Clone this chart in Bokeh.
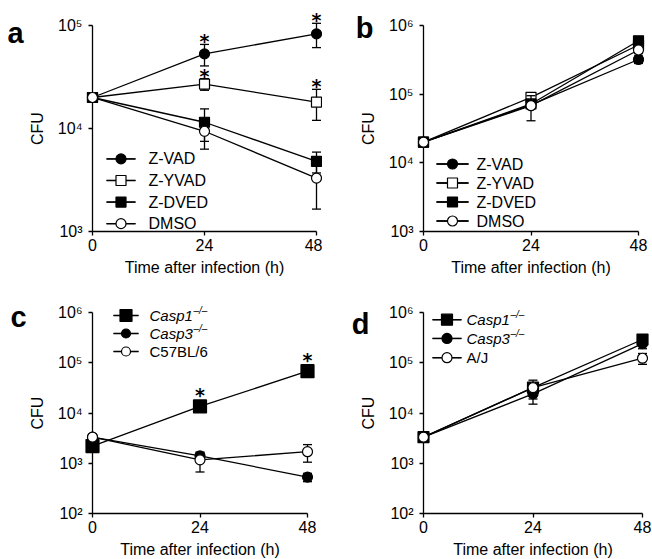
from bokeh.plotting import figure
from bokeh.models import Range1d, FixedTicker
from bokeh.layouts import column, row
from bokeh.embed import file_html
from bokeh.resources import INLINE
from bokeh.core.properties import value

# ---------------- data ----------------
time = [0, 24, 48]
x_ticks = [0, 24, 48]

# panel a
a_zvad = [2.0e4, 5.3e4, 8.3e4]
a_zvad_err = [0, 1.25e4, 2.2e4]
a_zyvad = [2.0e4, 2.7e4, 1.8e4]
a_zyvad_err = [0, 3.5e3, 6.0e3]
a_zdved = [2.0e4, 1.15e4, 4.8e3]
a_zdved_err = [0, 4.0e3, 1.1e3]
a_dmso = [2.0e4, 9.4e3, 3.3e3]
a_dmso_err = [0, 3.1e3, 1.65e3]
a_zvad_star = [False, True, True]
a_zyvad_star = [False, True, True]

# panel b
b_zvad = [2.0e4, 7.0e4, 3.2e5]
b_zvad_err = [0, 8.0e3, 4.0e4]
b_zyvad = [2.0e4, 9.0e4, 5.2e5]
b_zyvad_err = [0, 1.0e4, 5.0e4]
b_zdved = [2.0e4, 7.2e4, 6.0e5]
b_zdved_err = [0, 8.0e3, 6.0e4]
b_dmso = [2.0e4, 6.8e4, 4.4e5]
b_dmso_err = [0, 2.7e4, 5.0e4]

# panel c
c_casp1 = [2.2e3, 1.35e4, 6.8e4]
c_casp1_err = [0, 2.5e3, 1.0e4]
c_casp3 = [3.3e3, 1.4e3, 5.3e2]
c_casp3_err = [0, 2.0e2, 1.0e2]
c_c57 = [3.3e3, 1.17e3, 1.7e3]
c_c57_err = [0, 5.0e2, 6.5e2]
c_casp1_star = [False, True, True]

# panel d
d_casp1 = [3.3e3, 3.2e4, 2.9e5]
d_casp1_err = [0, 1.3e4, 7.0e4]
d_casp3 = [3.3e3, 2.4e4, 2.4e5]
d_casp3_err = [0, 9.0e3, 5.0e4]
d_aj = [3.3e3, 3.2e4, 1.23e5]
d_aj_err = [0, 5.0e3, 3.0e4]

FONT = value("Liberation Sans")
STARFONT = value("DejaVu Sans")
SUP = {2: "10\u00b2", 3: "10\u00b3", 4: "10\u2074", 5: "10\u2075", 6: "10\u2076"}
XTITLE = "Time after infection (h)"
KO = "\u2013/\u2013"


class Panel:
    def __init__(self, width, height, left, right, top, bottom, elo, ehi):
        # top: pixel row of the highest decade tick
        self.fw = width - left - right
        self.fh = height - bottom - top
        self.elo, self.ehi = elo, ehi
        p = figure(width=width, height=height, x_range=Range1d(0, 48),
                   y_range=Range1d(10.0 ** elo, 10.0 ** ehi), y_axis_type="log",
                   output_backend="svg", toolbar_location=None,
                   min_border_left=left, min_border_right=right,
                   min_border_top=top, min_border_bottom=bottom)
        p.grid.visible = False
        p.outline_line_color = None
        p.background_fill_color = "white"
        p.border_fill_color = "white"
        p.xaxis.ticker = FixedTicker(ticks=x_ticks)
        ticks = [10.0 ** k for k in range(elo, ehi + 1)]
        p.yaxis.ticker = FixedTicker(ticks=ticks, minor_ticks=[])
        p.yaxis.major_label_overrides = {10.0 ** k: SUP[k] for k in range(elo, ehi + 1)}
        for ax in (p.xaxis, p.yaxis):
            ax.axis_line_color = "black"
            ax.axis_line_width = 1.3
            ax.major_tick_line_color = "black"
            ax.major_tick_line_width = 1.3
            ax.major_tick_out = 4
            ax.major_tick_in = 0
            ax.minor_tick_line_color = None
            ax.major_label_text_font = "Liberation Sans"
            ax.major_label_text_font_size = "16px"
            ax.major_label_text_color = "black"
            ax.axis_label_text_font = "Liberation Sans"
            ax.axis_label_text_font_size = "16px"
            ax.axis_label_text_font_style = "normal"
            ax.axis_label_text_color = "black"
        p.xaxis.major_label_standoff = 3
        p.yaxis.major_label_standoff = 6
        p.yaxis.axis_label_standoff = 9
        p.yaxis.axis_label = "CFU"
        p.text([(x_ticks[0] + x_ticks[-1]) / 2], [10.0 ** elo], text=[XTITLE],
               y_offset=36, text_font=FONT, text_font_size="16px",
               text_align="center", text_baseline="middle", text_color="black",
               level="overlay")
        self.p = p

    # pixel position (from frame left / top tick) -> data coordinates
    def dx(self, px):
        return px * 48.0 / self.fw

    def dy(self, py):
        return 10.0 ** (self.ehi - py * (self.ehi - self.elo) / self.fh)

    def series(self, vals, errs, marker, size, fill, stars=None, star_gap=2):
        p = self.p
        p.line(time, vals, line_color="black", line_width=1.3, level="overlay")
        xs = [t for t, e in zip(time, errs) if e > 0]
        up = [v + e for v, e in zip(vals, errs) if e > 0]
        lo = [v - e for v, e in zip(vals, errs) if e > 0]
        p.segment(x0=xs, y0=lo, x1=xs, y1=up, line_color="black", line_width=1.3,
                  level="overlay")
        p.scatter(xs + xs, up + lo, marker="dash", size=9, line_color="black",
                  line_width=1.3, level="overlay")
        p.scatter(time, vals, marker=marker, size=size, fill_color=fill,
                  line_color="black", line_width=1.2, level="overlay")
        if stars is not None:
            sx = [t for t, s in zip(time, stars) if s]
            sy = [v + e for v, e, s in zip(vals, errs, stars) if s]
            p.text(sx, sy, text=["*"] * len(sx), text_align="center",
                   text_baseline="middle", y_offset=-star_gap, text_font_size="19px",
                   text_font=STARFONT, text_font_style="bold", text_color="black",
                   level="overlay")

    def key(self, label, marker, msize, fill, px0, py, glyph_w, standoff,
            size="16px", italic=False, ko=False):
        p = self.p
        yc = self.dy(py)
        x0, x1 = self.dx(px0), self.dx(px0 + glyph_w)
        xm = self.dx(px0 + glyph_w / 2)
        xt = self.dx(px0 + glyph_w + standoff)
        p.line([x0, x1], [yc, yc], line_color="black", line_width=1.3, level="overlay")
        p.scatter([xm], [yc], marker="dash", size=glyph_w, line_color="black",
                  line_width=1.3, level="overlay")
        p.scatter([xm], [yc], marker=marker, size=msize, fill_color=fill,
                  line_color="black", line_width=1.2, level="overlay")
        p.text([xt], [yc], text=[label], text_font=FONT, text_font_size=size,
               text_font_style="italic" if italic else "normal",
               text_align="left", text_baseline="middle", text_color="black",
               level="overlay")
        if ko:
            p.text([xt], [yc], text=[KO], x_offset=44, y_offset=-5,
                   text_font=FONT, text_font_size="10px", text_font_style="italic",
                   text_align="left", text_baseline="middle", text_color="black",
                   level="overlay")

    def letter(self, t, ox, oy):
        self.p.text([x_ticks[0]], [10.0 ** self.ehi], text=[t], x_offset=ox, y_offset=oy,
                    text_font=FONT, text_font_size="29px", text_font_style="bold",
                    text_align="center", text_baseline="middle",
                    text_color="black", level="overlay")


# ---------------- panel a ----------------
A = Panel(322, 280, 92, 6, 21, 49, 3, 5)
A.series(a_zvad, a_zvad_err, "circle", 10, "black", a_zvad_star, star_gap=3)
A.series(a_zyvad, a_zyvad_err, "square", 10, "white", a_zyvad_star, star_gap=3)
A.series(a_zdved, a_zdved_err, "square", 10, "black")
A.series(a_dmso, a_dmso_err, "circle", 10, "white")
for i, (lab, mk, fl) in enumerate([("Z-VAD", "circle", "black"), ("Z-YVAD", "square", "white"),
                                   ("Z-DVED", "square", "black"), ("DMSO", "circle", "white")]):
    A.key(lab, mk, 10, fl, 14, 136 + 22 * i, 29, 13)
A.letter("a", -77, 7)

# ---------------- panel b ----------------
B = Panel(330, 280, 101, 14, 25, 49, 3, 6)
B.series(b_zvad, b_zvad_err, "circle", 10, "black")
B.series(b_zyvad, b_zyvad_err, "square", 10, "white")
B.series(b_zdved, b_zdved_err, "square", 10, "black")
B.series(b_dmso, b_dmso_err, "circle", 10, "white")
for i, (lab, mk, fl) in enumerate([("Z-VAD", "circle", "black"), ("Z-YVAD", "square", "white"),
                                   ("Z-DVED", "square", "black"), ("DMSO", "circle", "white")]):
    B.key(lab, mk, 10, fl, 13, 138.5 + 19 * i, 32, 8)
B.letter("b", -59, 2)

# ---------------- panel c ----------------
C = Panel(322, 279, 92, 15, 32, 46, 2, 6)
C.series(c_casp1, c_casp1_err, "square", 13, "black", c_casp1_star, star_gap=8)
C.series(c_casp3, c_casp3_err, "circle", 10, "black")
C.series(c_c57, c_c57_err, "circle", 10, "white")
C.key("Casp1", "square", 12, "black", 21, 3, 25, 11, size="15px", italic=True, ko=True)
C.key("Casp3", "circle", 9, "black", 21, 21, 25, 11, size="15px", italic=True, ko=True)
C.key("C57BL/6", "circle", 9, "white", 21, 39, 25, 11, size="15px")
C.letter("c", -74, 4)

# ---------------- panel d ----------------
D = Panel(330, 279, 101, 10, 24, 46, 2, 6)
D.series(d_casp1, d_casp1_err, "square", 11, "black")
D.series(d_casp3, d_casp3_err, "circle", 10, "black")
D.series(d_aj, d_aj_err, "circle", 10, "white")
D.key("Casp1", "square", 11, "black", 9, 7.5, 29, 5, size="15px", italic=True, ko=True)
D.key("Casp3", "circle", 10, "black", 9, 27, 29, 5, size="15px", italic=True, ko=True)
D.key("A/J", "circle", 10, "white", 9, 47, 29, 5, size="15px")
D.letter("d", -63, 11)

layout = column(row(A.p, B.p, spacing=0), row(C.p, D.p, spacing=0), spacing=0)
open("out.html", "w").write(file_html(layout, INLINE))
